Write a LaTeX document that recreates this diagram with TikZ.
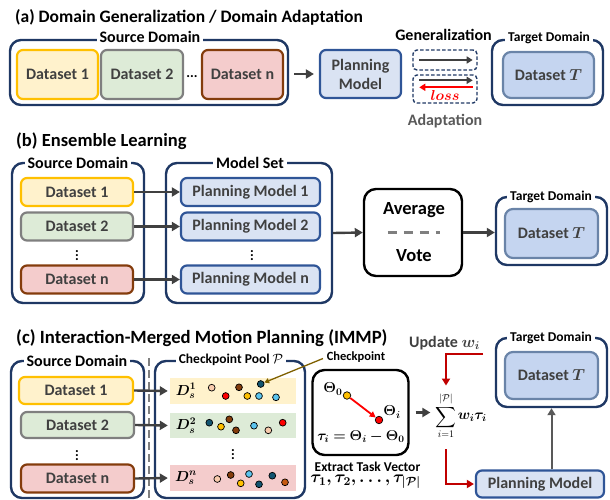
\RequirePackage{fix-cm}
\documentclass[tikz,border=0pt]{standalone}
\usepackage{amsmath}
\usepackage{bm}
\usepackage{fontspec}
\setmainfont{Carlito}
\usetikzlibrary{arrows.meta,calc}
\definecolor{cnavy}{HTML}{1F3864}
\definecolor{ctxt}{HTML}{404040}
\definecolor{yfill}{HTML}{FFF2CC}\definecolor{yline}{HTML}{FFC000}
\definecolor{gfill}{HTML}{DDEBD7}\definecolor{gline}{HTML}{7F7F7F}
\definecolor{rfill}{HTML}{F4CCCC}\definecolor{rline}{HTML}{843C0C}
\definecolor{pmfill}{HTML}{DAE3F3}\definecolor{pmline}{HTML}{2F5597}
\definecolor{dtfill}{HTML}{C5D5F0}\definecolor{dtline}{HTML}{6A84A8}
\definecolor{arrg}{HTML}{404040}
\definecolor{dred}{HTML}{C00000}
\definecolor{bred}{HTML}{FF0000}
\definecolor{adapt}{HTML}{595959}
\definecolor{olive}{HTML}{7F6000}
\definecolor{cpeach}{HTML}{F8CBAD}
\definecolor{cbrown}{HTML}{843C0C}
\definecolor{cgold}{HTML}{FFC000}
\definecolor{cteal}{HTML}{115470}
\definecolor{clblue}{HTML}{5BC4EE}
\definecolor{corange}{HTML}{C55A11}
\tikzset{
 wh/.style 2 args={minimum width=#1pt,minimum height=#2pt},
 cbox/.style={draw=cnavy,line width=2.4pt,rounded corners=11pt,inner sep=0pt},
 clab/.style={fill=white,inner xsep=3pt,inner ysep=0.5pt,font=\fontsize{16}{19}\selectfont\bfseries},
 tlab/.style={fill=white,inner xsep=3pt,inner ysep=0.5pt,font=\fontsize{13.5}{16}\selectfont\bfseries},
 ttl/.style={inner sep=0pt,anchor=base west,font=\fontsize{17.5}{21}\selectfont\bfseries},
 fsixteen/.style={inner sep=0pt,font=\fontsize{16}{19}\selectfont\bfseries},
 feighteen/.style={inner sep=0pt,font=\fontsize{18.5}{22}\selectfont\bfseries},
 fsmall/.style={inner sep=0pt,font=\fontsize{13.5}{16}\selectfont\bfseries},
 dsbox/.style={rounded corners=6pt,line width=2.2pt,inner sep=0pt,text=ctxt,font=\fontsize{16}{19}\selectfont\bfseries},
 dsY/.style={dsbox,fill=yfill,draw=yline},
 dsG/.style={dsbox,fill=gfill,draw=gline},
 dsR/.style={dsbox,fill=rfill,draw=rline},
 pmbox/.style={dsbox,fill=pmfill,draw=pmline},
 dtbox/.style={dsbox,fill=dtfill,draw=dtline,rounded corners=8pt},
 blackbox/.style={draw=black,line width=2.4pt,rounded corners=12pt,fill=white,inner sep=0pt},
 dbox/.style={draw=cnavy,line width=1.4pt,dash pattern=on 3.5pt off 2pt,rounded corners=4pt,inner sep=0pt},
 bandbox/.style={inner sep=0pt},
 ckdot/.style={circle,draw=black,line width=0.7pt,inner sep=0pt,minimum size=6.8pt},
 garrow/.style={draw=arrg,line width=2.4pt,-{Triangle[length=8pt,width=9pt]}},
 sarrow/.style={draw=arrg,line width=2pt,-{Triangle[length=6pt,width=7pt]}},
 rarrow/.style={draw=bred,line width=2pt,-{Triangle[length=6pt,width=7pt]}},
 redpath/.style={draw=dred,line width=2pt,-{Triangle[length=7pt,width=8pt]}},
 vdotsnode/.style={inner sep=0pt,text=black,font=\fontsize{14}{16}\selectfont\bfseries},
 mathlab/.style={inner sep=0pt,font=\fontsize{14.5}{17}\selectfont},
}
\begin{document}
\begin{tikzpicture}[x=1pt,y=-1pt]
\useasboundingbox (0,0) rectangle (610,500);
% ---------------- (a)
\node[ttl] (ta) at (15,22.7) {(a) Domain Generalization / Domain Adaptation};
\node[cbox,wh={278}{65}] (srcA) at (149,72.5) {};
\node[clab] (srcAl) at (150,37) {Source Domain};
\node[dsY,wh={81}{49}] (d1a) at (57.5,74.5) {Dataset 1};
\node[dsG,wh={82}{49}] (d2a) at (142,74.5) {Dataset 2};
\node[vdotsnode] (dotsa) at (192,77) {...};
\node[dsR,wh={81}{49}] (dna) at (242.5,74.5) {Dataset n};
\node[pmbox,wh={81}{48},align=center] (pmA) at (360.5,74) {Planning\\Model};
\draw[garrow,line width=2pt,shorten <=5pt,shorten >=5pt] (srcA.east |- pmA.west) -- (pmA.west);
\node[fsixteen] (gen) at (443.5,35) {Generalization};
\node[dbox,wh={64}{20}] (gbox) at (445,60) {};
\node[dbox,wh={64}{28}] (abox) at (445,89) {};
\draw[sarrow] ($(gbox.west)+(7,0)$) -- ($(gbox.east)+(-5,0)$);
\draw[sarrow] ($(abox.north west)+(7,6)$) -- ($(abox.north east)+(-5,6)$);
\draw[rarrow] ($(abox.north east)+(-5,13)$) -- ($(abox.north west)+(7,13)$);
\node[inner sep=0pt,text=bred,font=\fontsize{14.4}{17}\selectfont] (lossl) at (445,95.5) {$\bm{loss}$};
\node[fsixteen,text=adapt] (adl) at (445,121) {Adaptation};
\node[cbox,wh={111}{65}] (tgtA) at (547.5,72.5) {};
\node[tlab] (tgtAl) at (549,37.5) {Target Domain};
\node[dtbox,wh={91}{46}] (dtA) at (548.5,75) {Dataset $\bm{T}$};
% ---------------- (b)
\node[ttl,font=\fontsize{18.5}{22}\selectfont\bfseries] (tb) at (16,146.5) {(b) Ensemble Learning};
\node[cbox,wh={132}{140}] (srcB) at (78,233) {};
\node[clab] (srcBl) at (78,162.5) {Source Domain};
\node[dsY,wh={112}{28}] (d1b) at (77,192) {Dataset 1};
\node[dsG,wh={112}{28}] (d2b) at (77,226.5) {Dataset 2};
\node[vdotsnode] (vdb1) at (77,253) {\vdots};
\node[dsR,wh={112}{28}] (dnb) at (77,279.5) {Dataset n};
\node[cbox,wh={166}{140}] (msB) at (249,233) {};
\node[clab] (msBl) at (250,162.5) {Model Set};
\node[pmbox,wh={139}{28}] (pm1b) at (250.5,192) {Planning Model 1};
\node[pmbox,wh={139}{28}] (pm2b) at (250.5,226.5) {Planning Model 2};
\node[vdotsnode] (vdb2) at (252,253) {\vdots};
\node[pmbox,wh={139}{28}] (pmnb) at (250.5,279.5) {Planning Model n};
\draw[garrow] (d1b.east) -- (pm1b.west);
\draw[garrow] (d2b.east) -- (pm2b.west);
\draw[garrow] (dnb.east) -- (pmnb.west);
\node[blackbox,wh={98}{87}] (avB) at (413,232.5) {};
\node[feighteen] (avgl) at (414,210) {Average};
\node[feighteen] (votel) at (414,255.5) {Vote};
\draw[draw=gline,line width=2.6pt,dash pattern=on 9pt off 7pt] ($(avB.west)+(25,0)$) -- ($(avB.east)+(-23,0)$);
\draw[garrow] (msB.east) -- (avB.west);
\node[cbox,wh={111}{68}] (tgtB) at (551.5,231) {};
\node[tlab] (tgtBl) at (551,197) {Target Domain};
\node[dtbox,wh={93}{49}] (dtB) at (551.5,233.5) {Dataset $\bm{T}$};
\draw[garrow] (avB.east) -- (avB.east -| tgtB.west);
% ---------------- (c)
\node[ttl,font=\fontsize{18.7}{22}\selectfont\bfseries] (tc) at (16,343) {(c) Interaction-Merged Motion Planning (IMMP)};
\node[cbox,wh={133}{137}] (srcC) at (77.5,429.5) {};
\node[clab] (srcCl) at (77,361) {Source Domain};
\node[dsY,wh={114}{27}] (d1c) at (76,390.5) {Dataset 1};
\node[dsG,wh={113}{26}] (d2c) at (77.5,425) {Dataset 2};
\node[vdotsnode] (vdc1) at (77,453) {\vdots};
\node[dsR,wh={113}{28}] (dnc) at (77.5,478.5) {Dataset n};
\coordinate (sepT) at (149,358);
\coordinate (sepB) at (149,500);
\draw[draw=gline,line width=2.6pt,dash pattern=on 8pt off 4pt] (sepT) -- (sepB);
\node[cbox,wh={150}{137}] (cpC) at (230,429.5) {};
\node[tlab] (cpCl) at (231,360) {Checkpoint Pool $\mathcal{P}$};
\node[bandbox,fill=yfill,wh={126}{26}] (band1) at (233,391) {};
\node[bandbox,fill=gfill,wh={126}{25}] (band2) at (233,425.5) {};
\node[vdotsnode] (vdc2) at (233,452) {\vdots};
\node[bandbox,fill=rfill,wh={126}{26}] (bandn) at (233,478) {};
\node[mathlab] (ds1) at (186,391) {$\bm{D_s^1}$};
\node[mathlab] (ds2) at (186,425.5) {$\bm{D_s^2}$};
\node[mathlab] (dsn) at (186,478) {$\bm{D_s^n}$};
\draw[garrow,shorten >=2pt] (d1c.east) -- (band1.west);
\draw[garrow,shorten >=2pt] (d2c.east) -- (band2.west);
\draw[garrow,shorten >=2pt] (dnc.east) -- (bandn.west);
% dots band 1
\node[ckdot,fill=cpeach] (p1a) at (211.7,387.7) {};
\node[ckdot,fill=bred] (p1b) at (225.7,396) {};
\node[ckdot,fill=cbrown] (p1c) at (239,387.3) {};
\node[ckdot,fill=cgold] (p1d) at (247.3,396) {};
\node[ckdot,fill=cteal] (p1e) at (260.7,384) {};
\node[ckdot,fill=clblue] (p1f) at (259,396) {};
\node[ckdot,fill=clblue] (p1g) at (276,397.3) {};
% dots band 2
\node[ckdot,fill=cteal] (p2a) at (209.3,422.7) {};
\node[ckdot,fill=cgold] (p2b) at (221,426.7) {};
\node[ckdot,fill=cbrown] (p2c) at (229.3,419.3) {};
\node[ckdot,fill=cbrown] (p2d) at (236,430.3) {};
\node[ckdot,fill=clblue] (p2e) at (254,425.7) {};
\node[ckdot,fill=cpeach] (p2f) at (268.3,430.3) {};
\node[ckdot,fill=bred] (p2g) at (282.7,422.7) {};
% dots band n
\node[ckdot,fill=cpeach] (pna) at (217.3,479) {};
\node[ckdot,fill=cbrown] (pnb) at (230.7,475) {};
\node[ckdot,fill=cgold] (pnc) at (240.7,483.3) {};
\node[ckdot,fill=clblue] (pnd) at (249,474) {};
\node[ckdot,fill=cteal] (pne) at (259,484.3) {};
\node[ckdot,fill=cteal] (pnf) at (272.3,475.7) {};
\node[ckdot,fill=corange] (png) at (285,482.3) {};
% checkpoint annotation
\node[inner sep=0pt,font=\fontsize{12.5}{15}\selectfont\bfseries] (ckl) at (356,357) {Checkpoint};
\draw[draw=olive,line width=1.3pt,-{Triangle[length=5pt,width=5pt]},shorten <=4pt] (ckl.west) -- (p1e);
% task vector box
\node[blackbox,wh={96}{85}] (tvC) at (360.5,412.5) {};
\node[mathlab] (th0) at (333,389) {$\bm{\Theta_0}$};
\node[ckdot,fill=cgold,minimum size=7.5pt] (th0d) at (347,395.5) {};
\node[ckdot,fill=bred,minimum size=7.5pt] (thid) at (379,420) {};
\draw[draw=bred,line width=1.8pt,-{Triangle[length=6pt,width=6pt]}] (th0d) -- (thid);
\node[mathlab] (thi) at (392,412) {$\bm{\Theta_i}$};
\node[mathlab,font=\fontsize{14.3}{17}\selectfont] (taueq) at (361,437) {$\bm{\tau_i=\Theta_i-\Theta_0}$};
\node[fsmall] (extl) at (367.5,467) {Extract Task Vector};
\node[mathlab,font=\fontsize{17}{19}\selectfont] (taul) at (365.5,482) {$\bm{\tau_1,\tau_2,\ldots,\tau_{|\mathcal{P}|}}$};
% sum
\node[mathlab,font=\fontsize{14.4}{17}\selectfont] (sumS) at (446,416) {$\displaystyle\sum_{i=1}^{|\mathcal{P}|}$};
\node[mathlab,anchor=west] (wt) at ($(sumS.east)+(1,1)$) {$\bm{w_i\tau_i}$};
\draw[garrow,line width=2.2pt,shorten <=6pt,shorten >=5pt] (tvC.east) -- (tvC.east -| sumS.west);
\node[fsixteen,text=ctxt] (upd) at (444.5,343) {Update $\bm{w_i}$};
\coordinate (updc) at (483,354);
\draw[redpath,shorten >=7pt] (updc) -| (sumS.north);
% target & planning model
\node[cbox,wh={111}{69}] (tgtC) at (551.5,372.5) {};
\node[tlab] (tgtCl) at (551,338) {Target Domain};
\node[dtbox,wh={93}{47}] (dtC) at (551.5,375.5) {Dataset $\bm{T}$};
\node[pmbox,wh={128}{27}] (pmC) at (540,484) {Planning Model};
\draw[redpath,shorten <=10pt,shorten >=1pt] (sumS.south) |- (pmC.west);
\draw[garrow,line width=2pt,draw=adapt,-{Triangle[length=7pt,width=8pt]}] (pmC.north -| tgtC.south) -- (tgtC.south);
\end{tikzpicture}
\end{document}
